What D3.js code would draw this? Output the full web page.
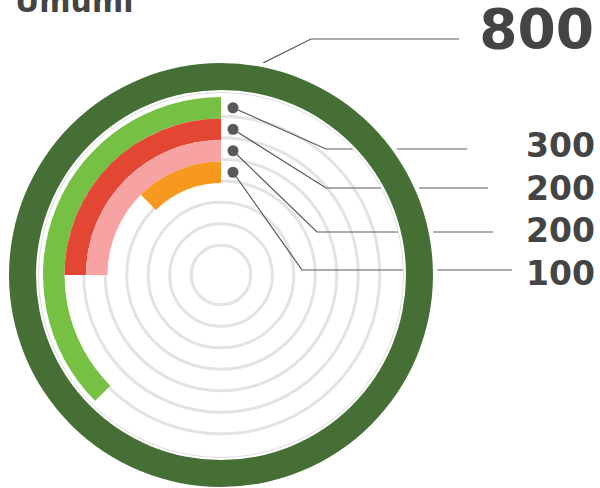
<!DOCTYPE html>
<html>
<head>
<meta charset="utf-8">
<script src="https://cdn.jsdelivr.net/npm/d3@7"></script>
<style>
  html, body { margin: 0; padding: 0; background: #fff; }
  svg { display: block; }
</style>
</head>
<body>
<div id="chart"></div>
<script>
// values, outer band first
const totalLabel = "Umumi";
const totalValue = 800;
const values = [300, 200, 200, 100];
const valueLabels = ["300", "200", "200", "100"];
const colors = ["#76c043", "#e34733", "#f7a3a3", "#f7991e"];

// leader line layout (annotation only)
const leaderY = [149, 188, 232, 270];
const elbowX = [326, 326, 317, 302];
const leaderEndX = [467, 488, 493, 512];

const width = 600, height = 488;
const cx = 221, cy = 275;
const ringInner = 185, ringOuter = 212;

const svg = d3.select("#chart").append("svg")
    .attr("width", width)
    .attr("height", height);

const g = svg.append("g").attr("transform", `translate(${cx},${cy})`);

// angle scale: value -> radians, drawn anticlockwise from 12 o'clock
const angle = d3.scaleLinear().domain([0, totalValue]).range([0, 2 * Math.PI]);

// bands from inside out: orange, pink, red, green
const band = d3.scaleBand()
    .domain(d3.range(values.length).reverse())
    .range([92, 178]);

// grey track circles
const step = band.bandwidth();
d3.range(7).forEach(k => {
    g.append("circle")
        .attr("r", band(0) + 2.3 - k * step)
        .attr("fill", "none")
        .attr("stroke", "#e3e3e3")
        .attr("stroke-width", 3);
});

// coloured bands
const arc = d3.arc();
values.forEach((v, i) => {
    g.append("path")
        .attr("d", arc({
            innerRadius: band(i),
            outerRadius: band(i) + band.bandwidth(),
            startAngle: -angle(v),
            endAngle: 0
        }))
        .attr("fill", colors[i]);
});

// leader lines for each band
const line = d3.line();
values.forEach((v, i) => {
    const dotY = -(band(i) + band.bandwidth() / 2);
    g.append("path")
        .attr("d", line([[12, dotY], [elbowX[i] - cx, leaderY[i] - cy], [leaderEndX[i] - cx, leaderY[i] - cy]]))
        .attr("fill", "none")
        .attr("stroke", "#58595b")
        .attr("stroke-width", 1.2);
    g.append("circle")
        .attr("cx", 12)
        .attr("cy", dotY)
        .attr("r", 5.5)
        .attr("fill", "#58595b");
});

// leader for total
g.append("path")
    .attr("d", line([[29, -205.5], [311 - cx, 39 - cy], [459 - cx, 39 - cy]]))
    .attr("fill", "none")
    .attr("stroke", "#58595b")
    .attr("stroke-width", 1.2);

// white halo behind outer ring hides the leader lines there
g.append("path")
    .attr("d", arc({ innerRadius: 182.5, outerRadius: ringOuter + 4.5, startAngle: 0, endAngle: 2 * Math.PI }))
    .attr("fill", "#fff");

// total ring
g.append("path")
    .attr("d", arc({ innerRadius: ringInner, outerRadius: ringOuter, startAngle: 0, endAngle: angle(totalValue) }))
    .attr("fill", "#466f35");

// thin outline inside the ring
g.append("circle")
    .attr("r", 182.5)
    .attr("fill", "none")
    .attr("stroke", "#dedede")
    .attr("stroke-width", 1);

// texts
const font = "'DejaVu Sans', Verdana, sans-serif";
svg.append("text")
    .attr("x", 15)
    .attr("y", 12)
    .attr("font-family", font)
    .attr("font-weight", "bold")
    .attr("font-size", 30)
    .attr("fill", "#444")
    .text(totalLabel);

svg.append("text")
    .attr("x", 594)
    .attr("y", 48)
    .attr("text-anchor", "end")
    .attr("font-family", font)
    .attr("font-weight", "bold")
    .attr("font-size", 55)
    .attr("fill", "#444")
    .text(totalValue);

valueLabels.forEach((t, i) => {
    svg.append("text")
        .attr("x", 595)
        .attr("y", 157 + i * 42.7)
        .attr("text-anchor", "end")
        .attr("font-family", font)
        .attr("font-weight", "bold")
        .attr("font-size", 33)
        .attr("fill", "#444")
        .text(t);
});
</script>
</body>
</html>
